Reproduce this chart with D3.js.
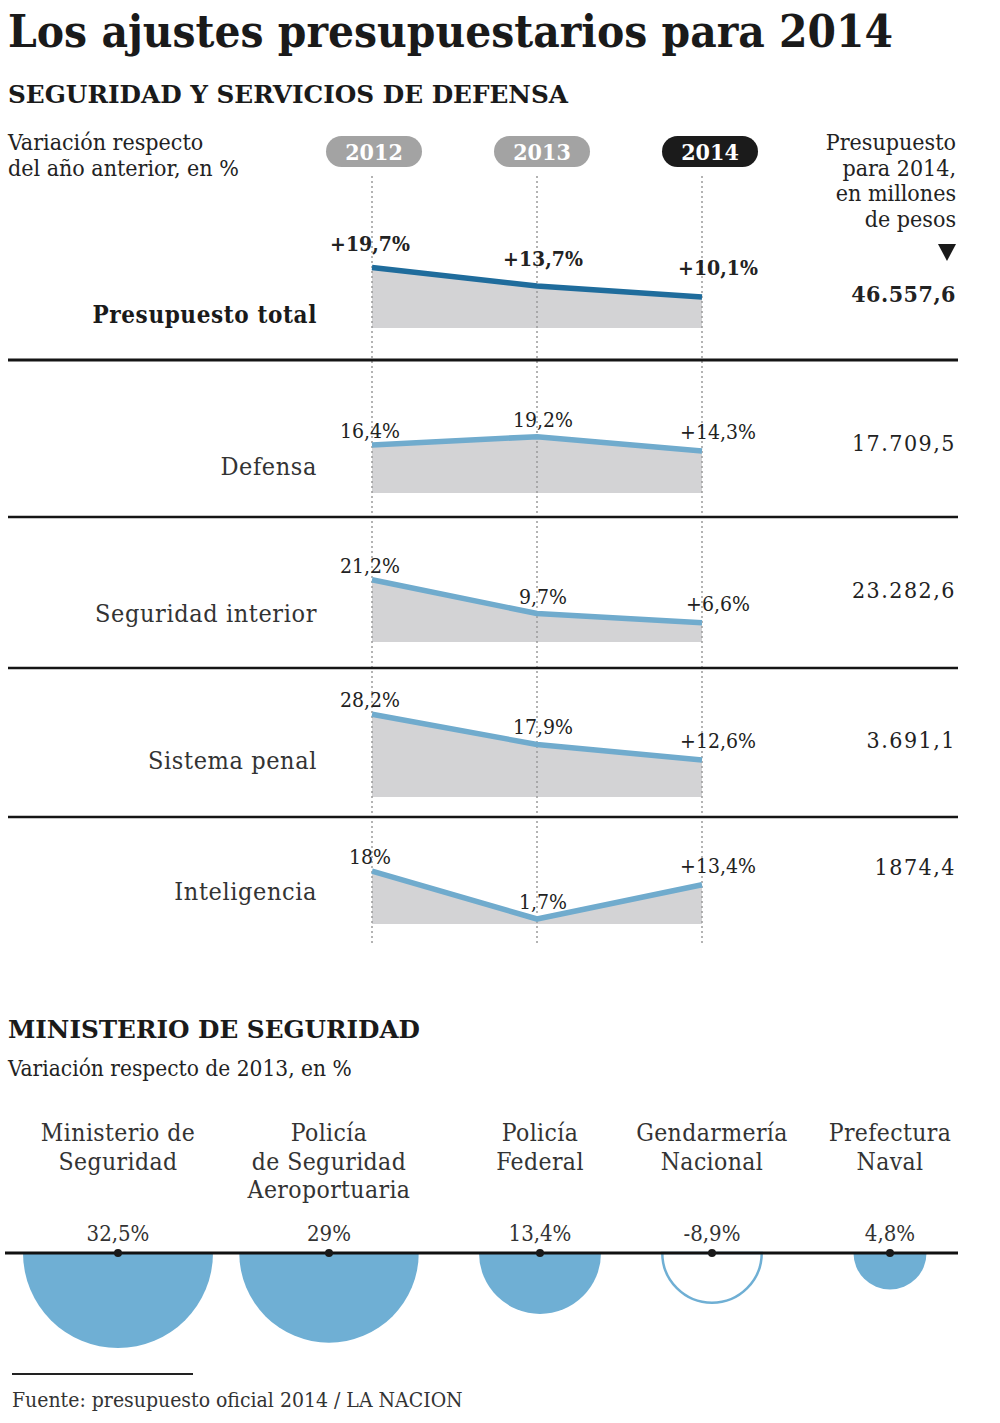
<!DOCTYPE html>
<html>
    <head>
        <meta charset="utf-8">
        <title>Los ajustes presupuestarios para 2014</title>
        <script src="https://d3js.org/d3.v7.min.js"></script>
        <style>
            body { margin: 0; background: #fff; }
            text { font-family: "DejaVu Serif Condensed", "DejaVu Serif", serif; font-stretch: condensed; fill: #222; }
        </style>
    </head>
    <body>
        <svg width="1000" height="1423" id="mainSvg"></svg>
        <script>
            // datos
            const years = ["2012", "2013", "2014"]
            const rubros = ["Presupuesto total", "Defensa", "Seguridad interior", "Sistema penal", "Inteligencia"]
            const variaciones = [
                [19.7, 13.7, 10.1],
                [16.4, 19.2, 14.3],
                [21.2, 9.7, 6.6],
                [28.2, 17.9, 12.6],
                [18, 1.7, 13.4]
            ]
            const etiquetas = [
                ["+19,7%", "+13,7%", "+10,1%"],
                ["16,4%", "19,2%", "+14,3%"],
                ["21,2%", "9,7%", "+6,6%"],
                ["28,2%", "17,9%", "+12,6%"],
                ["18%", "1,7%", "+13,4%"]
            ]
            const presupuesto2014 = ["46.557,6", "17.709,5", "23.282,6", "3.691,1", "1874,4"]

            const organismos = [
                ["Ministerio de", "Seguridad"],
                ["Policía", "de Seguridad", "Aeroportuaria"],
                ["Policía", "Federal"],
                ["Gendarmería", "Nacional"],
                ["Prefectura", "Naval"]
            ]
            const varMinisterio = [32.5, 29, 13.4, -8.9, 4.8]

            // layout
            const panelBottom = [328, 493, 642, 797, 924]
            const panelHeight = [92, 88, 88, 88, 88]
            const nameY = [323, 475, 622, 769, 900]
            const valueY = [302, 451, 598, 748, 875]
            const sepY = [360, 517, 668, 817]
            const labelDx = [-2, 6, 16]
            const labelDy = [-7, -10, -12]
            const orgX = [118, 329, 540, 712, 890]

            const svg = d3.select("#mainSvg")
            svg.append("rect").attr("width", 1000).attr("height", 1423).attr("fill", "#fff")

            // títulos
            svg.append("text").text("Los ajustes presupuestarios para 2014")
                .attr("x", 8).attr("y", 47)
                .attr("font-size", 44).attr("font-weight", "bold")
                .attr("textLength", 885).attr("lengthAdjust", "spacingAndGlyphs")
                .style("fill", "#1a1a1a")
            svg.append("text").text("SEGURIDAD Y SERVICIOS DE DEFENSA")
                .attr("x", 8).attr("y", 103)
                .attr("font-size", 25).attr("font-weight", "bold")
                .attr("textLength", 560).attr("lengthAdjust", "spacingAndGlyphs")
                .style("fill", "#1a1a1a")

            svg.append("text").attr("x", 8).attr("y", 150).attr("font-size", 23).text("Variación respecto")
            svg.append("text").attr("x", 8).attr("y", 176).attr("font-size", 23).text("del año anterior, en %")

            const rightLines = ["Presupuesto", "para 2014,", "en millones", "de pesos"]
            svg.selectAll(".rhead").data(rightLines).enter().append("text")
                .attr("class", "rhead")
                .attr("x", 956).attr("y", (d, i) => 150 + i * 25.5)
                .attr("text-anchor", "end").attr("font-size", 23)
                .text(d => d)
            svg.append("path").attr("d", "M938,244 L956,244 L947,261 Z").attr("fill", "#1a1a1a")

            // escalas
            const x = d3.scalePoint().domain(years).range([372, 702])
            const xPill = d3.scalePoint().domain(years).range([374, 710])

            // líneas punteadas de años
            svg.selectAll(".guia").data(years).enter().append("line")
                .attr("class", "guia")
                .attr("x1", d => x(d)).attr("x2", d => x(d))
                .attr("y1", 176).attr("y2", 946)
                .attr("stroke", "#9a9a9a").attr("stroke-width", 1.5)
                .attr("stroke-dasharray", "2,3")

            // pastillas de años
            const pills = svg.selectAll(".pill").data(years).enter().append("g").attr("class", "pill")
            pills.append("rect")
                .attr("x", d => xPill(d) - 48).attr("y", 136)
                .attr("width", 96).attr("height", 31).attr("rx", 15.5)
                .attr("fill", (d, i) => i == 2 ? "#1b1b1b" : "#a3a3a3")
            pills.append("text")
                .attr("x", d => xPill(d)).attr("y", 160)
                .attr("text-anchor", "middle").attr("font-size", 23).attr("font-weight", "bold")
                .style("fill", "#fff")
                .text(d => d)

            // paneles
            rubros.forEach((rubro, p) => {
                const y = d3.scaleLinear().domain([0, 30]).range([panelBottom[p], panelBottom[p] - panelHeight[p]])
                const pts = years.map((yr, i) => ({yr: yr, v: variaciones[p][i], lab: etiquetas[p][i]}))

                const area = d3.area().x(d => x(d.yr)).y0(panelBottom[p]).y1(d => y(d.v))
                svg.insert("path", ".guia").datum(pts).attr("d", area).attr("fill", "#d3d3d5")

                const line = d3.line().x(d => x(d.yr)).y(d => y(d.v))
                svg.append("path").datum(pts).attr("d", line)
                    .attr("fill", "none")
                    .attr("stroke", p == 0 ? "#1f6c9c" : "#70abcd")
                    .attr("stroke-width", 5.5)
                    .attr("stroke-linejoin", "round")

                svg.selectAll(".lab" + p).data(pts).enter().append("text")
                    .attr("class", "lab" + p)
                    .attr("x", (d, i) => x(d.yr) + labelDx[i])
                    .attr("y", (d, i) => y(d.v) + labelDy[i] - (p == 0 ? 10 : 0))
                    .attr("text-anchor", "middle")
                    .attr("font-size", 21)
                    .attr("font-weight", p == 0 ? "bold" : "normal")
                    .text(d => d.lab)

                svg.append("text").text(rubro)
                    .attr("x", 317).attr("y", nameY[p])
                    .attr("text-anchor", "end")
                    .attr("font-size", p == 0 ? 24 : 25)
                    .attr("font-weight", p == 0 ? "bold" : "normal")
                    .attr("letter-spacing", 0.6)
                    .style("fill", p == 0 ? "#1a1a1a" : "#333")

                svg.append("text").text(presupuesto2014[p])
                    .attr("x", 956).attr("y", valueY[p])
                    .attr("text-anchor", "end")
                    .attr("font-size", p == 0 ? 23 : 23)
                    .attr("letter-spacing", p == 0 ? 0.5 : 1.5)
                    .attr("font-weight", p == 0 ? "bold" : "normal")
            })

            // separadores
            svg.selectAll(".sep").data(sepY).enter().append("line")
                .attr("class", "sep")
                .attr("x1", 8).attr("x2", 958)
                .attr("y1", d => d).attr("y2", d => d)
                .attr("stroke", "#151515").attr("stroke-width", (d, i) => i == 0 ? 3 : 2.5)

            // Ministerio de Seguridad
            svg.append("text").text("MINISTERIO DE SEGURIDAD")
                .attr("x", 8).attr("y", 1038)
                .attr("font-size", 25).attr("font-weight", "bold")
                .attr("textLength", 412).attr("lengthAdjust", "spacingAndGlyphs")
                .style("fill", "#1a1a1a")
            svg.append("text").text("Variación respecto de 2013, en %")
                .attr("x", 8).attr("y", 1076).attr("font-size", 22.5)

            const r = d3.scaleSqrt().domain([0, 32.5]).range([0, 95])
            const baseY = 1253

            const orgs = svg.selectAll(".org").data(organismos).enter().append("g").attr("class", "org")
            orgs.each(function(lines, i) {
                d3.select(this).selectAll("text").data(lines).enter().append("text")
                    .attr("x", orgX[i]).attr("y", (d, j) => 1141 + j * 28.5)
                    .attr("text-anchor", "middle").attr("font-size", 24.5)
                    .attr("letter-spacing", 0.4)
                    .style("fill", "#333")
                    .text(d => d)
            })

            svg.selectAll(".semi").data(varMinisterio).enter().append("path")
                .attr("class", "semi")
                .attr("d", (d, i) => {
                    const cx = orgX[i], rr = r(Math.abs(d))
                    return `M${cx - rr},${baseY} A${rr},${rr} 0 0 0 ${cx + rr},${baseY} Z`
                })
                .attr("fill", d => d < 0 ? "#fff" : "#6fafd4")
                .attr("stroke", d => d < 0 ? "#6fafd4" : "none")
                .attr("stroke-width", 2.5)

            svg.append("line").attr("x1", 5).attr("x2", 958).attr("y1", baseY).attr("y2", baseY)
                .attr("stroke", "#111").attr("stroke-width", 3)

            svg.selectAll(".dot").data(varMinisterio).enter().append("circle")
                .attr("class", "dot")
                .attr("cx", (d, i) => orgX[i]).attr("cy", baseY).attr("r", 4)
                .attr("fill", "#1a1a1a")

            svg.selectAll(".vlab").data(varMinisterio).enter().append("text")
                .attr("class", "vlab")
                .attr("x", (d, i) => orgX[i]).attr("y", 1241)
                .attr("text-anchor", "middle").attr("font-size", 22)
                .style("fill", "#333")
                .text(d => String(d).replace(".", ",") + "%")

            // fuente
            svg.append("line").attr("x1", 12).attr("x2", 193).attr("y1", 1374).attr("y2", 1374)
                .attr("stroke", "#222").attr("stroke-width", 2)
            svg.append("text").text("Fuente:  presupuesto oficial 2014 / LA NACION")
                .attr("x", 12).attr("y", 1407).attr("font-size", 21)
                .style("fill", "#333")
        </script>
    </body>
</html>
